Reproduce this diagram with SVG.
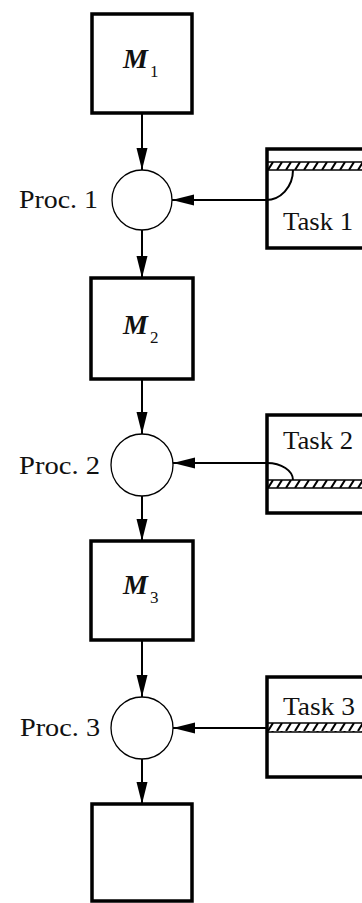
<svg xmlns="http://www.w3.org/2000/svg" width="362" height="903" viewBox="0 0 362 903">
<style>
.box{fill:none;stroke:#000;stroke-width:3.5}
.proc{fill:#fff;stroke:#000;stroke-width:1.3}
.conn{fill:none;stroke:#000;stroke-width:2}
.lbl{font-family:'Liberation Serif','Times New Roman',serif;font-size:25px;fill:#111}
.m{font-family:'Liberation Serif','Times New Roman',serif;font-size:28px;font-style:italic;font-weight:bold;fill:#111}
.sub{font-family:'Liberation Serif','Times New Roman',serif;font-size:17px;fill:#111}
.bandline{stroke:#000;stroke-width:1.6}
</style>
<defs>
<marker id="ah" markerUnits="userSpaceOnUse" markerWidth="24" markerHeight="12" refX="22" refY="5.5" orient="auto">
<path d="M0,0 L22,5.5 L0,11 Z" fill="#000"/>
</marker>
<pattern id="hatch" patternUnits="userSpaceOnUse" width="9" height="8">
<line x1="1" y1="8" x2="6" y2="0" stroke="#000" stroke-width="2"/>
</pattern>
</defs>

<g id="M1"><rect class="box" x="92" y="14" width="100" height="99"/><text class="m" x="123" y="68">M</text><text class="sub" x="150" y="77">1</text></g>
<g id="M2"><rect class="box" x="91" y="278" width="102" height="101"/><text class="m" x="123" y="334">M</text><text class="sub" x="150" y="343">2</text></g>
<g id="M3"><rect class="box" x="91" y="541" width="102" height="99"/><text class="m" x="123" y="594">M</text><text class="sub" x="150" y="603">3</text></g>
<g id="M4"><rect class="box" x="92" y="804" width="100" height="97"/></g>

<g id="proc1"><circle class="proc" cx="142" cy="200" r="30"/><text class="lbl" x="19" y="208" textLength="79" lengthAdjust="spacingAndGlyphs">Proc. 1</text></g>
<g id="proc2"><circle class="proc" cx="142" cy="465" r="31"/><text class="lbl" x="19" y="474" textLength="81" lengthAdjust="spacingAndGlyphs">Proc. 2</text></g>
<g id="proc3"><circle class="proc" cx="142" cy="728" r="31"/><text class="lbl" x="20" y="736" textLength="80" lengthAdjust="spacingAndGlyphs">Proc. 3</text></g>

<g id="task1"><rect class="box" x="267" y="149" width="110" height="99"/>
<g transform="translate(267,162)"><rect x="0" y="0" width="100" height="8" fill="url(#hatch)"/><line class="bandline" x1="0" y1="0" x2="100" y2="0"/><line class="bandline" x1="0" y1="8" x2="100" y2="8"/></g>
<text class="lbl" x="283" y="230" textLength="70" lengthAdjust="spacingAndGlyphs">Task 1</text></g>
<g id="task2"><rect class="box" x="267" y="415" width="110" height="98"/>
<g transform="translate(267,480)"><rect x="0" y="0" width="100" height="8" fill="url(#hatch)"/><line class="bandline" x1="0" y1="0" x2="100" y2="0"/><line class="bandline" x1="0" y1="8" x2="100" y2="8"/></g>
<text class="lbl" x="283" y="449" textLength="70" lengthAdjust="spacingAndGlyphs">Task 2</text></g>
<g id="task3"><rect class="box" x="267" y="677" width="110" height="100"/>
<g transform="translate(267,723)"><rect x="0" y="0" width="100" height="9" fill="url(#hatch)"/><line class="bandline" x1="0" y1="0" x2="100" y2="0"/><line class="bandline" x1="0" y1="9" x2="100" y2="9"/></g>
<text class="lbl" x="283" y="715" textLength="72" lengthAdjust="spacingAndGlyphs">Task 3</text></g>

<g id="connectors">
<line class="conn" x1="142" y1="113" x2="142" y2="170" marker-end="url(#ah)"/>
<line class="conn" x1="142" y1="230" x2="142" y2="278" marker-end="url(#ah)"/>
<line class="conn" x1="142" y1="379" x2="142" y2="434" marker-end="url(#ah)"/>
<line class="conn" x1="142" y1="496" x2="142" y2="541" marker-end="url(#ah)"/>
<line class="conn" x1="142" y1="640" x2="142" y2="697" marker-end="url(#ah)"/>
<line class="conn" x1="142" y1="759" x2="142" y2="804" marker-end="url(#ah)"/>
<path class="conn" d="M293,170 A27,30 0 0 1 265,200 L172,200" marker-end="url(#ah)"/>
<path class="conn" d="M293,480 A26,17 0 0 0 267,463 L173,463" marker-end="url(#ah)"/>
<line class="conn" x1="267" y1="728" x2="173" y2="728" marker-end="url(#ah)"/>
</g>
</svg>
